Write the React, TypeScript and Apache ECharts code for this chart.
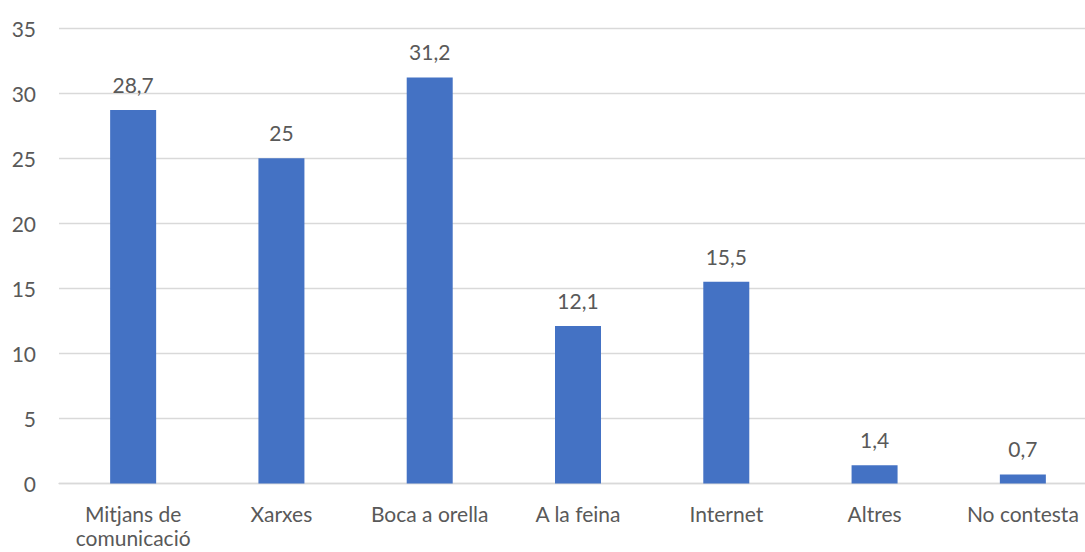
import React, { useEffect, useRef } from "react";
import * as echarts from "echarts";

const categories = [
  "Mitjans de\ncomunicació",
  "Xarxes",
  "Boca a orella",
  "A la feina",
  "Internet",
  "Altres",
  "No contesta",
];
const values = [28.7, 25, 31.2, 12.1, 15.5, 1.4, 0.7];

const FONT = "Lato, 'Liberation Sans', sans-serif";
const TEXT = "#595959";
const GRID = "#D9D9D9";

export default function App() {
  const ref = useRef<HTMLDivElement>(null);
  useEffect(() => {
    if (!ref.current) return;
    const chart = echarts.init(ref.current, undefined, { renderer: "svg" });
    chart.setOption({
      animation: false,
      grid: {
        left: 59,
        width: 1038,
        top: 28,
        bottom: 68.5,
        containLabel: false,
        outerBoundsMode: "none",
      },
      xAxis: {
        type: "category",
        data: categories,
        axisLine: { lineStyle: { color: GRID, width: 1.3 } },
        axisTick: { show: false },
        axisLabel: {
          color: TEXT,
          fontFamily: FONT,
          fontSize: 21,
          margin: 18,
          lineHeight: 24,
          interval: 0,
          hideOverlap: false,
        },
      },
      yAxis: {
        type: "value",
        min: 0,
        max: 35,
        interval: 5,
        axisLine: { show: false },
        axisTick: { show: false },
        splitLine: { lineStyle: { color: GRID, width: 1.3 } },
        axisLabel: {
          color: TEXT,
          fontFamily: FONT,
          fontSize: 21,
          margin: 23,
        },
      },
      series: [
        {
          type: "bar",
          data: values,
          barWidth: 46,
          itemStyle: { color: "#4472C4" },
          label: {
            show: true,
            position: "top",
            distance: 15,
            color: TEXT,
            fontFamily: FONT,
            fontSize: 21,
            formatter: (p: any) => String(p.value).replace(".", ","),
          },
        },
      ],
    });
    return () => chart.dispose();
  }, []);
  return (
    <div
      ref={ref}
      style={{ position: "absolute", left: 0, top: 0, width: 1085, height: 552, background: "#fff" }}
    />
  );
}
